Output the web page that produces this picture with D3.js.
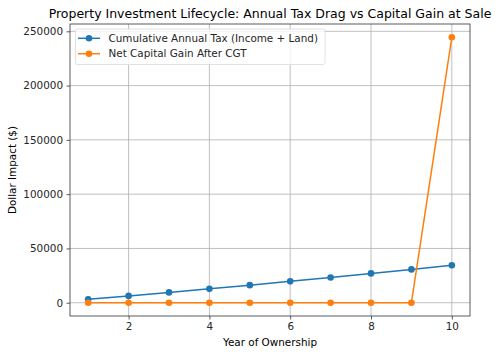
<!DOCTYPE html>
<html><head><meta charset="utf-8">
<script src="https://cdn.jsdelivr.net/npm/d3@7"></script>
<style>body{margin:0;background:#fff}svg{display:block;font-family:"DejaVu Sans",sans-serif}</style>
</head><body>
<svg id="c" width="500" height="356"></svg>
<script>
const years = [1,2,3,4,5,6,7,8,9,10];
const cumulativeTax = [3100,6300,9500,12800,16200,19700,23300,27000,30700,34500];
const netGain = [0,0,0,0,0,0,0,0,0,244500];
const yTicks = [0,50000,100000,150000,200000,250000];
const xTicks = [2,4,6,8,10];
const seriesNames = ["Cumulative Annual Tax (Income + Land)","Net Capital Gain After CGT"];
const colors = ["#1f77b4","#ff7f0e"];

const svg = d3.select("#c");
const L=70,R=470,T=24,B=316;
const FS=10.4;
const x = d3.scaleLinear().domain([0.55,10.45]).range([L,R]);
const y = d3.scaleLinear().domain([-12225,256725]).range([B,T]);

// grid
svg.append("g").selectAll("line").data(xTicks).join("line")
  .attr("x1",d=>x(d)).attr("x2",d=>x(d)).attr("y1",T).attr("y2",B)
  .attr("stroke","#b0b0b0").attr("stroke-width",0.8);
svg.append("g").selectAll("line").data(yTicks).join("line")
  .attr("y1",d=>y(d)).attr("y2",d=>y(d)).attr("x1",L).attr("x2",R)
  .attr("stroke","#b0b0b0").attr("stroke-width",0.8);

// axes
const xa = svg.append("g").attr("transform",`translate(0,${B})`)
  .call(d3.axisBottom(x).tickValues(xTicks).tickSize(3.5).tickPadding(3.5).tickFormat(d3.format("d")));
const ya = svg.append("g").attr("transform",`translate(${L},0)`)
  .call(d3.axisLeft(y).tickValues(yTicks).tickSize(3.5).tickPadding(3.5).tickFormat(d3.format("d")));
[xa,ya].forEach(a=>{a.select(".domain").remove();a.selectAll("text").attr("font-size",FS).attr("fill","#262626").attr("font-family","DejaVu Sans");a.selectAll("line").attr("stroke","#333").attr("stroke-width",0.8);});

// series
const data=[cumulativeTax,netGain];
data.forEach((vals,i)=>{
  const pts = years.map((yr,j)=>[yr,vals[j]]);
  svg.append("path").datum(pts).attr("fill","none").attr("stroke",colors[i]).attr("stroke-width",1.5)
    .attr("d",d3.line().x(d=>x(d[0])).y(d=>y(d[1])));
  svg.append("g").selectAll("circle").data(pts).join("circle")
    .attr("cx",d=>x(d[0])).attr("cy",d=>y(d[1])).attr("r",3.3).attr("fill",colors[i]);
});

// frame
svg.append("rect").attr("x",L).attr("y",T).attr("width",R-L).attr("height",B-T)
  .attr("fill","none").attr("stroke","#333").attr("stroke-width",0.8);

// legend
const lg = svg.append("g");
lg.append("rect").attr("x",75.5).attr("y",29).attr("width",249.5).attr("height",35.5).attr("rx",2)
  .attr("fill","rgba(255,255,255,0.8)").attr("stroke","#d9d9d9").attr("stroke-width",0.8);
seriesNames.forEach((n,i)=>{
  const yy = 38.3 + i*15.4;
  lg.append("line").attr("x1",78).attr("x2",100).attr("y1",yy).attr("y2",yy).attr("stroke",colors[i]).attr("stroke-width",1.5);
  lg.append("circle").attr("cx",89).attr("cy",yy).attr("r",3.3).attr("fill",colors[i]);
  lg.append("text").attr("x",108.5).attr("y",yy).attr("dy","0.35em").attr("font-size",FS).attr("fill","#262626").text(n);
});

// labels
svg.append("text").attr("x",(L+R)/2).attr("y",18).attr("text-anchor","middle").attr("font-size",12.5).attr("fill","#000")
  .text("Property Investment Lifecycle: Annual Tax Drag vs Capital Gain at Sale");
svg.append("text").attr("x",(L+R)/2).attr("y",346).attr("text-anchor","middle").attr("font-size",FS).attr("fill","#000")
  .text("Year of Ownership");
svg.append("text").attr("transform",`translate(15.5,${(T+B)/2}) rotate(-90)`).attr("text-anchor","middle").attr("font-size",FS).attr("fill","#000")
  .text("Dollar Impact ($)");
</script>
</body></html>
